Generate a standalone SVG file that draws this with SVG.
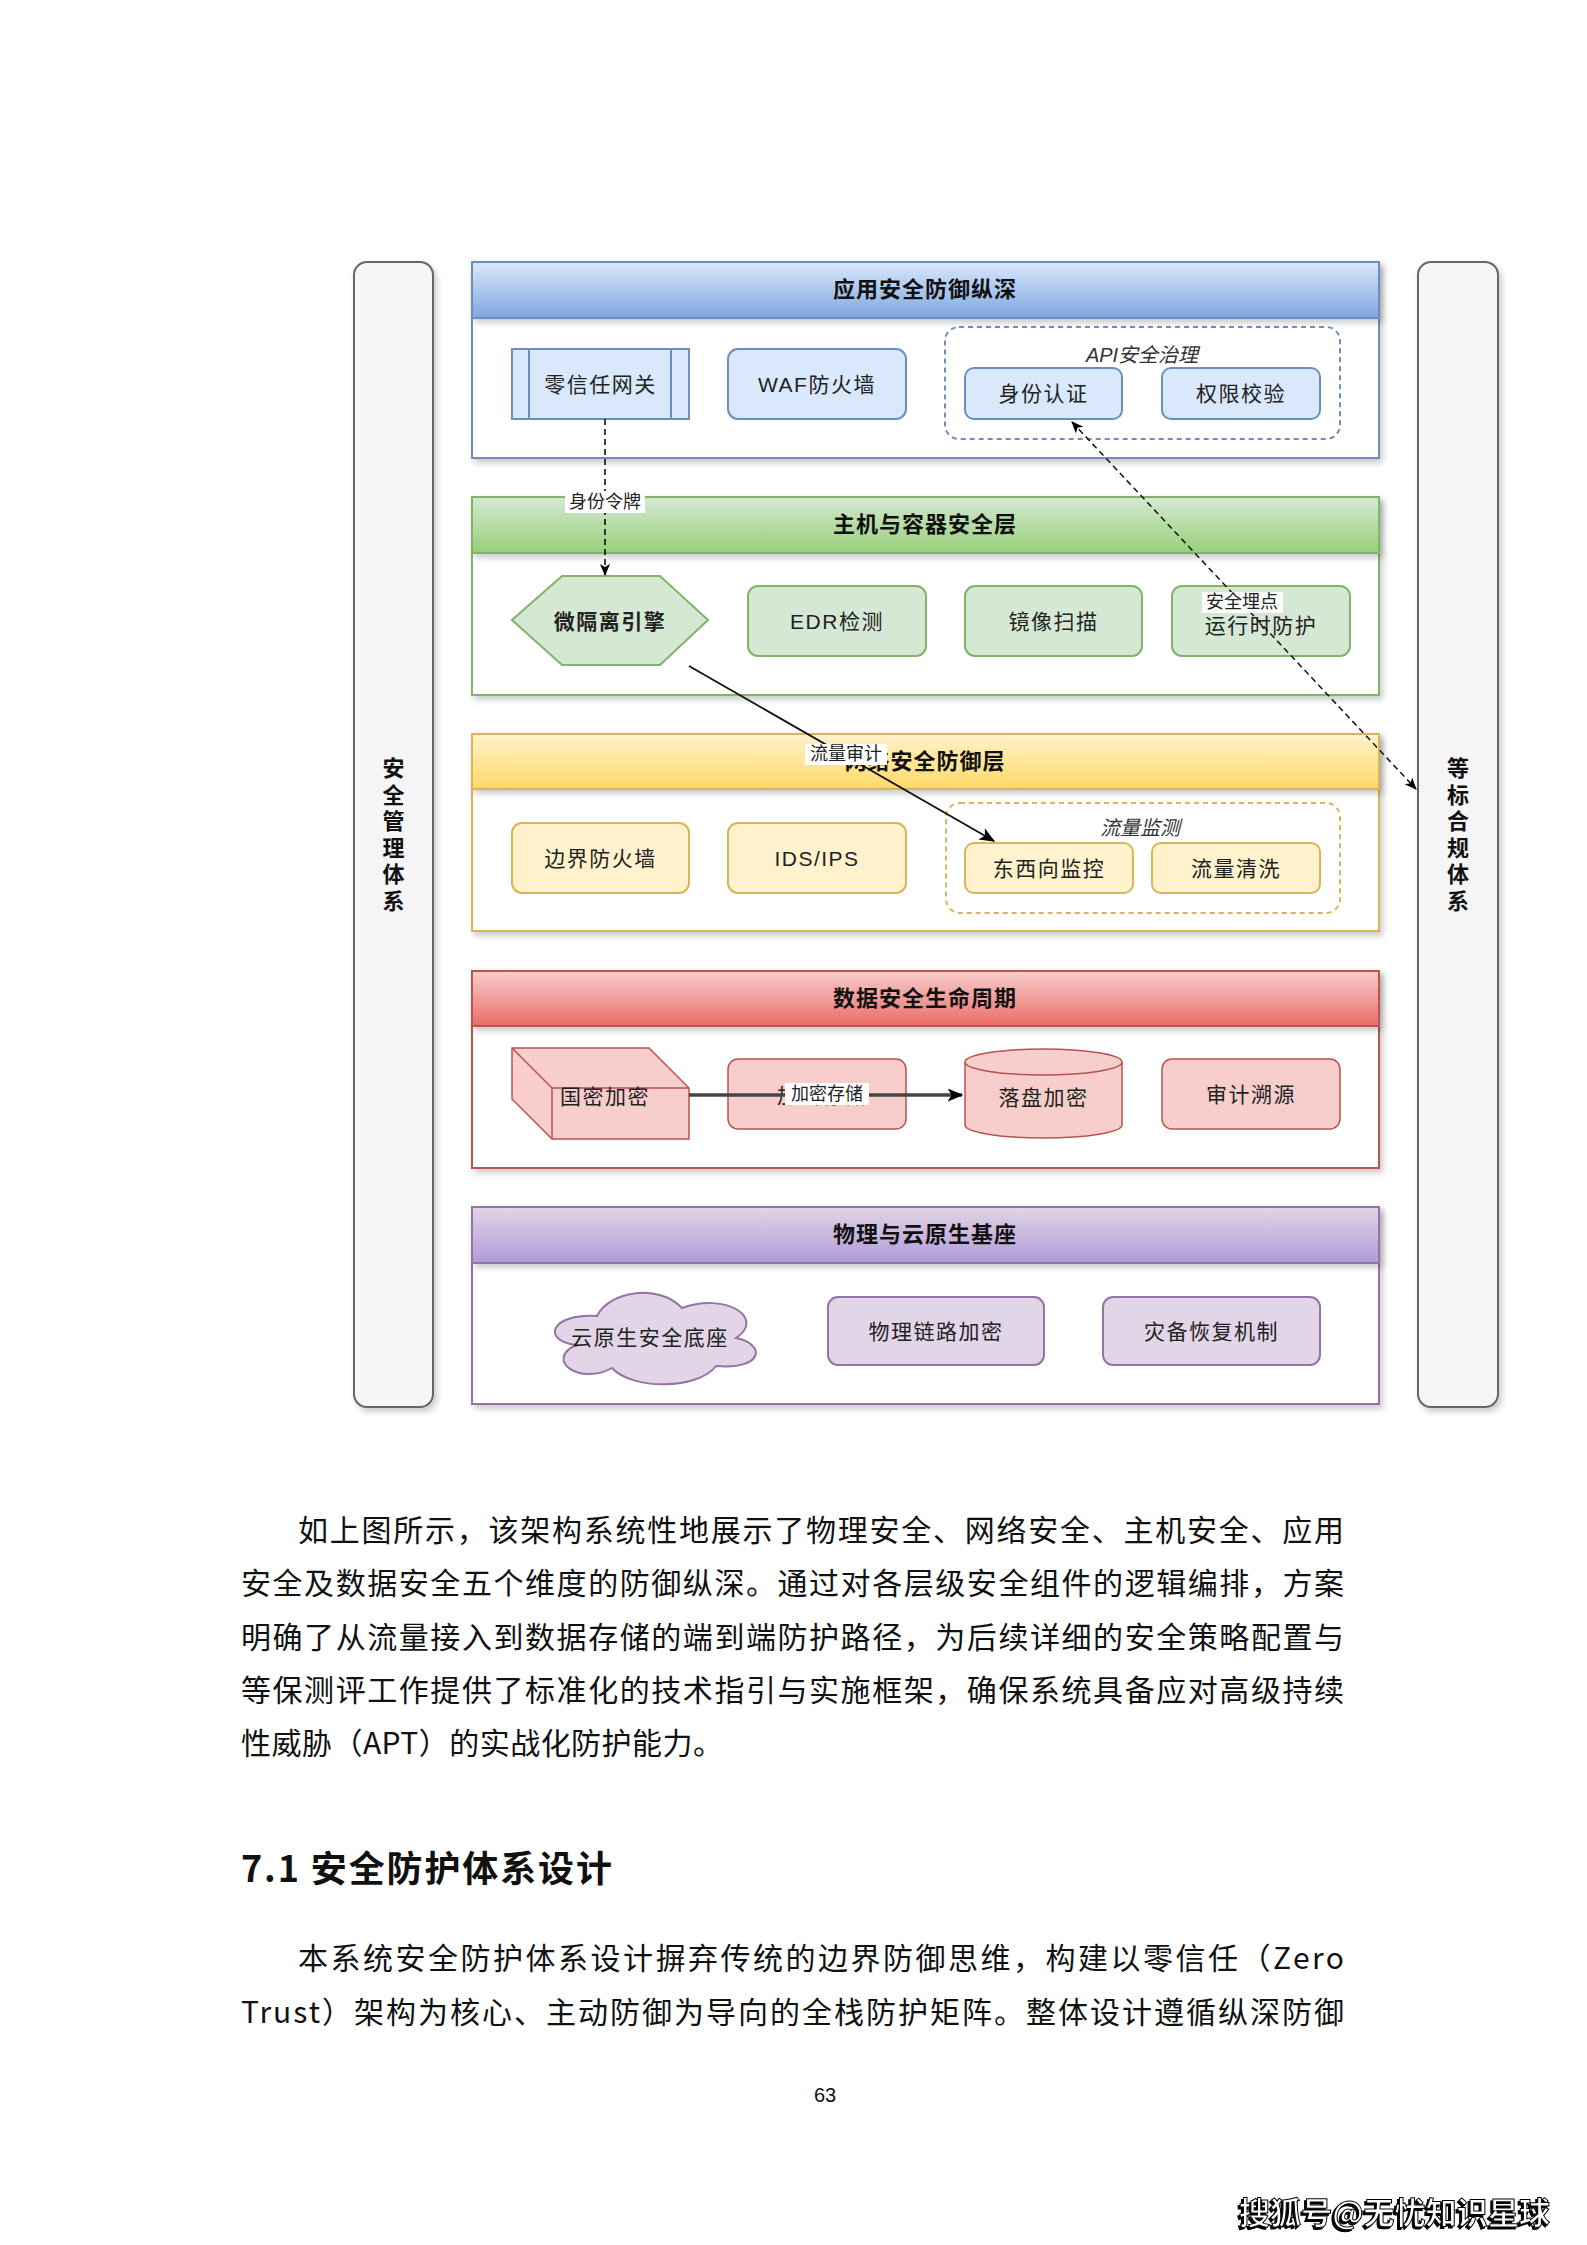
<svg xmlns="http://www.w3.org/2000/svg" width="1587" height="2245" viewBox="0 0 1587 2245">
<style>
.t{font-family:"Liberation Sans","Noto Sans CJK SC",sans-serif;font-size:21px;fill:#222;text-anchor:middle;dominant-baseline:central;letter-spacing:1.5px}
.hd{font-family:"Liberation Sans","Noto Sans CJK SC",sans-serif;font-size:22px;font-weight:bold;fill:#111;text-anchor:middle;dominant-baseline:central;letter-spacing:1px}
.vt{font-family:"Liberation Sans","Noto Sans CJK SC",sans-serif;font-size:22px;font-weight:bold;fill:#111;text-anchor:middle;dominant-baseline:central}
.gl{font-family:"Liberation Sans","Noto Sans CJK SC",sans-serif;font-size:20px;font-style:italic;fill:#333;text-anchor:middle;dominant-baseline:central}
.el{font-family:"Liberation Sans","Noto Sans CJK SC",sans-serif;font-size:18px;fill:#222;text-anchor:middle;dominant-baseline:central}
.p{font-family:"Noto Sans CJK SC",sans-serif;font-size:30px;fill:#111}
.body{fill:#fff}
.bar{fill:#f5f5f5;stroke:#666;stroke-width:2}
.nb{fill:#dae8fc;stroke:#6c8ebf;stroke-width:2}
.ng{fill:#d5e8d4;stroke:#82b366;stroke-width:2}
.ny{fill:#fff2cc;stroke:#d6b656;stroke-width:2}
.nr{fill:#f8cecc;stroke:#b85450;stroke-width:1.5}
.np{fill:#e1d5e7;stroke:#9673a6;stroke-width:2}
.lb{fill:#fff;stroke:none}
</style>
<defs>
<linearGradient id="gb" x1="0" y1="0" x2="0" y2="1"><stop offset="0" stop-color="#dae8fc"/><stop offset="1" stop-color="#7ea6e0"/></linearGradient>
<linearGradient id="gg" x1="0" y1="0" x2="0" y2="1"><stop offset="0" stop-color="#d5e8d4"/><stop offset="1" stop-color="#97d077"/></linearGradient>
<linearGradient id="gy" x1="0" y1="0" x2="0" y2="1"><stop offset="0" stop-color="#fff2cc"/><stop offset="1" stop-color="#ffd966"/></linearGradient>
<linearGradient id="gr" x1="0" y1="0" x2="0" y2="1"><stop offset="0" stop-color="#f8cecc"/><stop offset="1" stop-color="#ea6b66"/></linearGradient>
<linearGradient id="gp" x1="0" y1="0" x2="0" y2="1"><stop offset="0" stop-color="#e1d5e7"/><stop offset="1" stop-color="#b09ad6"/></linearGradient>
<filter id="sh" x="-5%" y="-5%" width="115%" height="125%"><feDropShadow dx="3" dy="4" stdDeviation="3" flood-color="#000" flood-opacity="0.2"/></filter>
<filter id="ws" x="-5%" y="-20%" width="110%" height="140%"><feDropShadow dx="-2" dy="2" stdDeviation="0.5" flood-color="#000" flood-opacity="1"/></filter>
<marker id="ar" viewBox="0 0 12 10" markerWidth="12" markerHeight="10" refX="11" refY="5" orient="auto-start-reverse" markerUnits="userSpaceOnUse"><path d="M0,0 L12,5 L0,10 L3,5 Z" fill="#000"/></marker>
<marker id="ar2" viewBox="0 0 12 10" markerWidth="16" markerHeight="13" refX="11" refY="5" orient="auto" markerUnits="userSpaceOnUse"><path d="M0,0 L12,5 L0,10 L3,5 Z" fill="#000"/></marker>
</defs>
<rect x="0" y="0" width="1587" height="2245" fill="#fff"/>

<g id="bar-left">
<rect class="bar" x="354" y="262" width="79" height="1145" rx="13" filter="url(#sh)"/>
<text class="vt" x="393.5"><tspan x="393.5" y="768">安</tspan><tspan x="393.5" y="794.5">全</tspan><tspan x="393.5" y="821">管</tspan><tspan x="393.5" y="847.5">理</tspan><tspan x="393.5" y="874">体</tspan><tspan x="393.5" y="900.5">系</tspan></text>
</g>
<g id="bar-right">
<rect class="bar" x="1418" y="262" width="80" height="1145" rx="13" filter="url(#sh)"/>
<text class="vt" x="1458"><tspan x="1458" y="768">等</tspan><tspan x="1458" y="794.5">标</tspan><tspan x="1458" y="821">合</tspan><tspan x="1458" y="847.5">规</tspan><tspan x="1458" y="874">体</tspan><tspan x="1458" y="900.5">系</tspan></text>
</g>

<g id="layer-app">
<rect class="body" x="472" y="262" width="907" height="196" stroke="#6c8ebf" stroke-width="2" filter="url(#sh)"/>
<rect x="472" y="262" width="907" height="56" fill="url(#gb)" stroke="#6c8ebf" stroke-width="2" filter="url(#sh)"/>
<text class="hd" x="925" y="289">应用安全防御纵深</text>
</g>
<g id="layer-host">
<rect class="body" x="472" y="497" width="907" height="198" stroke="#82b366" stroke-width="2" filter="url(#sh)"/>
<rect x="472" y="497" width="907" height="56" fill="url(#gg)" stroke="#82b366" stroke-width="2" filter="url(#sh)"/>
<text class="hd" x="925" y="524">主机与容器安全层</text>
</g>
<g id="layer-net">
<rect class="body" x="472" y="734" width="907" height="197" stroke="#d6b656" stroke-width="2" filter="url(#sh)"/>
<rect x="472" y="734" width="907" height="55" fill="url(#gy)" stroke="#d6b656" stroke-width="2" filter="url(#sh)"/>
<text class="hd" x="925" y="761">网络安全防御层</text>
</g>
<g id="layer-data">
<rect class="body" x="472" y="971" width="907" height="197" stroke="#b85450" stroke-width="2" filter="url(#sh)"/>
<rect x="472" y="971" width="907" height="55" fill="url(#gr)" stroke="#b85450" stroke-width="2" filter="url(#sh)"/>
<text class="hd" x="925" y="998">数据安全生命周期</text>
</g>
<g id="layer-phys">
<rect class="body" x="472" y="1207" width="907" height="197" stroke="#9673a6" stroke-width="2" filter="url(#sh)"/>
<rect x="472" y="1207" width="907" height="56" fill="url(#gp)" stroke="#9673a6" stroke-width="2" filter="url(#sh)"/>
<text class="hd" x="925" y="1234">物理与云原生基座</text>
</g>

<g id="grp-api">
<rect x="945" y="327" width="395" height="112" rx="14" fill="none" stroke="#6c8ebf" stroke-width="2" stroke-dasharray="5 4"/>
<text class="gl" x="1142" y="355">API安全治理</text>
</g>
<g id="grp-flow">
<rect x="946" y="803" width="394" height="110" rx="14" fill="none" stroke="#d6b656" stroke-width="2" stroke-dasharray="5 4"/>
<text class="gl" x="1140" y="828">流量监测</text>
</g>

<g id="n-ztgw">
<rect class="nb" x="512" y="349" width="177" height="70"/>
<line x1="529" y1="349" x2="529" y2="419" stroke="#6c8ebf" stroke-width="2"/>
<line x1="671" y1="349" x2="671" y2="419" stroke="#6c8ebf" stroke-width="2"/>
<text class="t" x="600.5" y="384">零信任网关</text>
</g>
<g id="n-waf">
<rect class="nb" x="728" y="349" width="178" height="70" rx="10"/>
<text class="t" x="817" y="384">WAF防火墙</text>
</g>
<g id="n-auth">
<rect class="nb" x="965" y="368" width="157" height="51" rx="9"/>
<text class="t" x="1043.5" y="393.5">身份认证</text>
</g>
<g id="n-perm">
<rect class="nb" x="1162" y="368" width="158" height="51" rx="9"/>
<text class="t" x="1241" y="393.5">权限校验</text>
</g>

<g id="n-mseg">
<polygon class="ng" points="512,620 562,576 660,576 708,620 660,665 562,665"/>
<text class="t" x="610" y="621" font-weight="bold">微隔离引擎</text>
</g>
<g id="n-edr">
<rect class="ng" x="748" y="586" width="178" height="70" rx="10"/>
<text class="t" x="837" y="621">EDR检测</text>
</g>
<g id="n-img">
<rect class="ng" x="965" y="586" width="177" height="70" rx="10"/>
<text class="t" x="1053.5" y="621">镜像扫描</text>
</g>
<g id="n-rt">
<rect class="ng" x="1172" y="586" width="178" height="70" rx="10"/>
<text class="t" x="1261" y="625">运行时防护</text>
</g>

<g id="n-bfw">
<rect class="ny" x="512" y="823" width="177" height="70" rx="10"/>
<text class="t" x="600.5" y="858">边界防火墙</text>
</g>
<g id="n-ids">
<rect class="ny" x="728" y="823" width="178" height="70" rx="10"/>
<text class="t" x="817" y="858">IDS/IPS</text>
</g>
<g id="n-ew">
<rect class="ny" x="965" y="843" width="168" height="50" rx="9"/>
<text class="t" x="1049" y="868">东西向监控</text>
</g>
<g id="n-clean">
<rect class="ny" x="1152" y="843" width="168" height="50" rx="9"/>
<text class="t" x="1236" y="868">流量清洗</text>
</g>

<g id="n-sm">
<path class="nr" d="M512,1048 L649,1048 L689,1088 L689,1139 L552,1139 L512,1099 Z"/>
<path d="M512,1048 L552,1088 L689,1088 M552,1088 L552,1139" fill="none" stroke="#b85450" stroke-width="1.5"/>
<text class="t" x="605" y="1096">国密加密</text>
</g>
<g id="n-store">
<rect class="nr" x="728" y="1059" width="178" height="70" rx="10"/>
<text class="t" x="822" y="1095">加密存储</text>
</g>
<g id="n-disk">
<path class="nr" d="M965,1062 A78.5,13 0 0 1 1122,1062 L1122,1125 A78.5,13 0 0 1 965,1125 Z"/>
<path d="M965,1062 A78.5,13 0 0 0 1122,1062" fill="none" stroke="#b85450" stroke-width="1.5"/>
<text class="t" x="1043.5" y="1097">落盘加密</text>
</g>
<g id="n-audit">
<rect class="nr" x="1162" y="1059" width="178" height="70" rx="10"/>
<text class="t" x="1251" y="1094">审计溯源</text>
</g>

<g id="n-cloud">
<path class="np" d="M597,1316 C552,1313 540,1340 576,1345 C544,1360 580,1386 612,1368 C632,1390 698,1390 716,1366 C764,1370 766,1344 736,1338 C766,1318 726,1292 682,1308 C660,1284 610,1290 597,1316 Z"/>
<text class="t" x="650" y="1337">云原生安全底座</text>
</g>
<g id="n-link">
<rect class="np" x="828" y="1297" width="216" height="68" rx="10"/>
<text class="t" x="936" y="1331">物理链路加密</text>
</g>
<g id="n-dr">
<rect class="np" x="1103" y="1297" width="217" height="68" rx="10"/>
<text class="t" x="1211.5" y="1331">灾备恢复机制</text>
</g>

<g id="connectors">
<line x1="605" y1="419" x2="605" y2="575" stroke="#000" stroke-width="1.5" stroke-dasharray="6 4" marker-end="url(#ar)"/>
<rect class="lb" x="565" y="491" width="80" height="22"/>
<text class="el" x="605" y="502">身份令牌</text>

<line x1="689" y1="666" x2="994" y2="841" stroke="#111" stroke-width="1.8" marker-end="url(#ar2)"/>
<rect class="lb" x="805" y="744" width="82" height="21"/>
<text class="el" x="846" y="754">流量审计</text>

<line x1="1072" y1="422" x2="1416" y2="789" stroke="#111" stroke-width="1.5" stroke-dasharray="6 4" marker-start="url(#ar)" marker-end="url(#ar)"/>
<rect class="lb" x="1202" y="592" width="81" height="21" opacity="0.9"/>
<text class="el" x="1242" y="602">安全埋点</text>

<line x1="689" y1="1095" x2="962" y2="1095" stroke="#444" stroke-width="3.5" marker-end="url(#ar2)"/>
<rect class="lb" x="785" y="1083" width="84" height="22"/>
<text class="el" x="827" y="1094">加密存储</text>
</g>

<g id="page-text">
<text class="p" x="298" y="1541" textLength="1046" lengthAdjust="spacing">如上图所示，该架构系统性地展示了物理安全、网络安全、主机安全、应用</text>
<text class="p" x="241" y="1594" textLength="1103" lengthAdjust="spacing">安全及数据安全五个维度的防御纵深。通过对各层级安全组件的逻辑编排，方案</text>
<text class="p" x="241" y="1648" textLength="1103" lengthAdjust="spacing">明确了从流量接入到数据存储的端到端防护路径，为后续详细的安全策略配置与</text>
<text class="p" x="241" y="1701" textLength="1103" lengthAdjust="spacing">等保测评工作提供了标准化的技术指引与实施框架，确保系统具备应对高级持续</text>
<text class="p" x="241" y="1754" textLength="482" lengthAdjust="spacing">性威胁（APT）的实战化防护能力。</text>
<text font-family="Noto Sans CJK SC, sans-serif" font-size="36" font-weight="bold" fill="#111" x="241" y="1882" textLength="371" lengthAdjust="spacing">7.1 安全防护体系设计</text>
<text class="p" x="298" y="1969" textLength="1046" lengthAdjust="spacing">本系统安全防护体系设计摒弃传统的边界防御思维，构建以零信任（Zero</text>
<text class="p" x="241" y="2023" textLength="1103" lengthAdjust="spacing">Trust）架构为核心、主动防御为导向的全栈防护矩阵。整体设计遵循纵深防御</text>
<text font-family="Liberation Sans, sans-serif" font-size="20" fill="#111" x="825" y="2102" text-anchor="middle">63</text>
<text font-family="Noto Sans CJK SC, sans-serif" font-size="31" font-weight="bold" fill="#fff" stroke="#000" stroke-width="1" x="1239" y="2224" textLength="311" lengthAdjust="spacing" filter="url(#ws)">搜狐号@无忧知识星球</text>
</g>
</svg>
